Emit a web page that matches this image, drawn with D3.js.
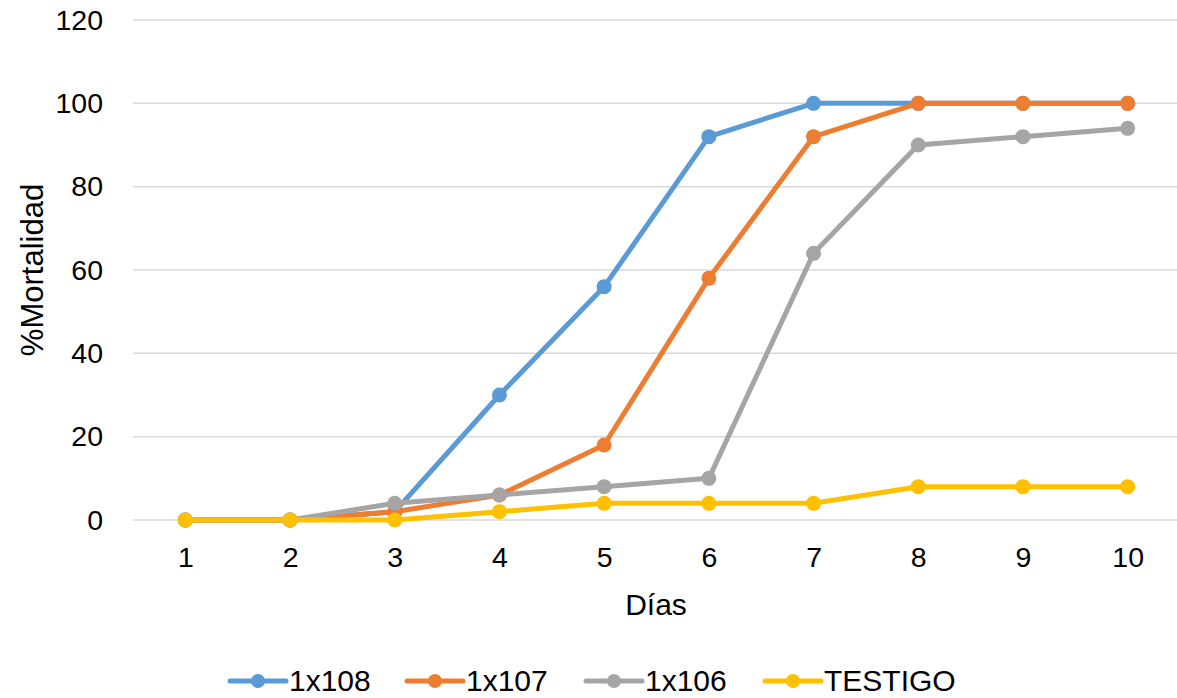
<!DOCTYPE html>
<html><head><meta charset="utf-8">
<script src="https://cdn.jsdelivr.net/npm/d3@7"></script>
<style>body{margin:0;background:#fff}svg{display:block}text{font-family:"Liberation Sans",Arial,sans-serif;fill:#000}</style>
</head><body>
<script>
const days = ["1","2","3","4","5","6","7","8","9","10"];
const s1x108 = [0,0,2,30,56,92,100,100,100,100];
const s1x107 = [0,0,2,6,18,58,92,100,100,100];
const s1x106 = [0,0,4,6,8,10,64,90,92,94];
const testigo = [0,0,0,2,4,4,4,8,8,8];
const seriesNames = ["1x108","1x107","1x106","TESTIGO"];
const yTicks = [0,20,40,60,80,100,120];
const colors = ["#5B9BD5","#ED7D31","#A5A5A5","#FFC000"];
const series = [s1x108,s1x107,s1x106,testigo];

const W=1177,H=698;
const svg=d3.select("body").append("svg").attr("width",W).attr("height",H);
const L=133,R=1180,T=20,B=520;
const x=d3.scalePoint().domain(days).range([L,R]).padding(0.5);
const y=d3.scaleLinear().domain([0,120]).range([B,T]);

svg.append("g").selectAll("line").data(yTicks).join("line")
 .attr("x1",L).attr("x2",R).attr("y1",d=>y(d)).attr("y2",d=>y(d))
 .attr("stroke","#D9D9D9").attr("stroke-width",1.5);

const ya=svg.append("g").attr("transform",`translate(${L},0)`)
 .call(d3.axisLeft(y).tickValues(yTicks).tickSize(0).tickPadding(30));
ya.select(".domain").remove();
ya.selectAll("text").style("font-size","28.5px").attr("font-family","Liberation Sans, Arial, sans-serif");

const xa=svg.append("g").attr("transform",`translate(0,${B})`)
 .call(d3.axisBottom(x).tickSize(0).tickPadding(27));
xa.select(".domain").remove();
xa.selectAll("text").style("font-size","28.5px").attr("font-family","Liberation Sans, Arial, sans-serif");

svg.append("text").attr("x",656).attr("y",615).attr("text-anchor","middle").style("font-size","30px").text("Días");
svg.append("text").attr("transform","translate(43,270) rotate(-90)").attr("text-anchor","middle").style("font-size","31px").text("%Mortalidad");

const line=d3.line().x((d,i)=>x(days[i])).y(d=>y(d));
series.forEach((s,k)=>{
  const g=svg.append("g");
  g.append("path").datum(s).attr("d",line).attr("fill","none").attr("stroke",colors[k]).attr("stroke-width",5).attr("stroke-linejoin","round").attr("stroke-linecap","round");
  g.selectAll("circle").data(s).join("circle").attr("cx",(d,i)=>x(days[i])).attr("cy",d=>y(d)).attr("r",7.5).attr("fill",colors[k]);
});

const lx=[230,407,586,765];
const lg=svg.append("g");
seriesNames.forEach((n,k)=>{
  const g=lg.append("g").attr("transform",`translate(${lx[k]},681)`);
  g.append("line").attr("x1",0).attr("x2",56).attr("stroke",colors[k]).attr("stroke-width",5).attr("stroke-linecap","round");
  g.append("circle").attr("cx",28).attr("r",7).attr("fill",colors[k]);
  g.append("text").attr("x",59).attr("y",10).style("font-size","30px").text(n);
});
</script>
</body></html>
